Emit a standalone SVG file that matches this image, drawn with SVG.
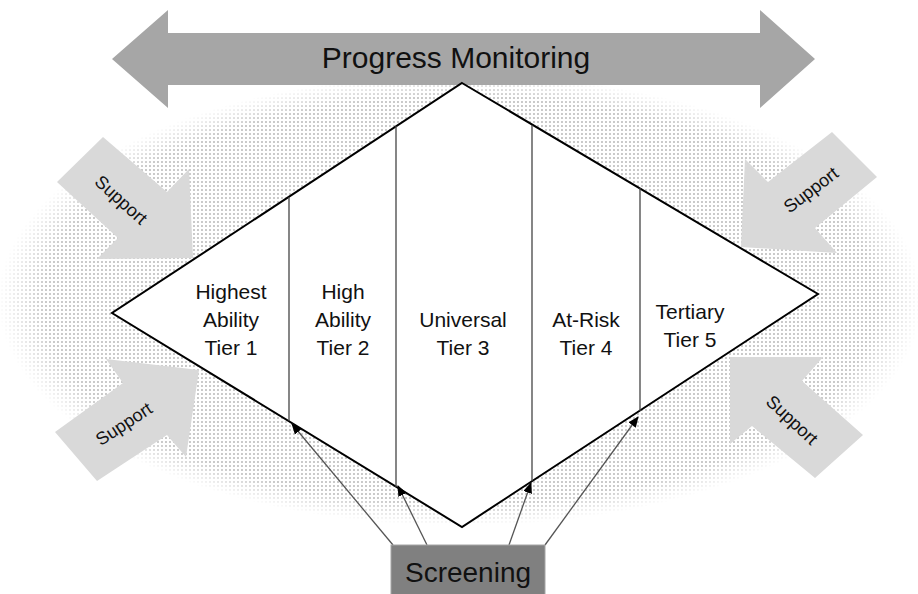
<svg xmlns="http://www.w3.org/2000/svg" width="918" height="594" viewBox="0 0 918 594">
<style>
.t{font-family:"Liberation Sans",Arial,sans-serif;fill:#111;text-anchor:middle}
.tier{font-size:21px}
.sup{font-size:18px}
.sarrow{fill:#d9d9d9}
.div{stroke:#444;stroke-width:1.3;fill:none}
.conn{stroke:#555;stroke-width:1.3;fill:none;marker-end:url(#ah)}
</style>
<defs>
<pattern id="dots" width="4" height="4" patternUnits="userSpaceOnUse">
<rect width="4" height="4" fill="#fff"/>
<circle cx="2" cy="2" r="0.95" fill="#b4b4b4"/>
</pattern>
<radialGradient id="fade" cx="0.5" cy="0.5" r="0.5">
<stop offset="0" stop-color="#fff"/>
<stop offset="0.9" stop-color="#fff"/>
<stop offset="1" stop-color="#000"/>
</radialGradient>
<mask id="m" maskUnits="userSpaceOnUse" x="0" y="0" width="918" height="594">
<ellipse cx="460" cy="300" rx="462" ry="226" fill="url(#fade)"/>
</mask>
<marker id="ah" markerWidth="11" markerHeight="9" refX="10" refY="4.5" orient="auto" markerUnits="userSpaceOnUse">
<path d="M0,0 L11,4.5 L0,9 z" fill="#000"/>
</marker>
</defs>
<rect width="918" height="594" fill="#fff"/>
<g id="background">
<ellipse cx="460" cy="300" rx="462" ry="226" fill="url(#dots)" mask="url(#m)"/>
</g>
<g id="progress-monitoring">
<polygon points="112,59 168,10 168,33 760,33 760,10 815,59 760,108 760,85 168,85 168,108" fill="#a6a6a6"/>
<text class="t" x="456" y="68" font-size="30">Progress Monitoring</text>
</g>
<g id="support-top-left">
<polygon class="sarrow" points="103,137 167,192 189,169 193,258 97,259 118,238 57,182"/>
<text class="t sup" transform="translate(121,200) rotate(42)" y="6">Support</text>
</g>
<g id="support-bottom-left">
<polygon class="sarrow" points="55,432 123,383 106,359 199,370 186,457 167,435 97,481"/>
<text class="t sup" transform="translate(124,424) rotate(-33)" y="6">Support</text>
</g>
<g id="support-top-right">
<polygon class="sarrow" points="832,132 768,182 745,159 741,247 837,253 815,228 877,177"/>
<text class="t sup" transform="translate(811,190) rotate(-37)" y="6">Support</text>
</g>
<g id="support-bottom-right">
<polygon class="sarrow" points="730,357 823,357 802,381 863,435 815,478 752,426 730,444"/>
<text class="t sup" transform="translate(792,420) rotate(43)" y="6">Support</text>
</g>
<g id="tiers">
<polygon points="462,83 818,294 462,527 112,313" fill="#fff" stroke="#000" stroke-width="2" stroke-linejoin="miter"/>
<line class="div" x1="289" y1="197" x2="289" y2="421"/>
<line class="div" x1="396" y1="126" x2="396" y2="487"/>
<line class="div" x1="532" y1="125" x2="532" y2="481"/>
<line class="div" x1="640" y1="188" x2="640" y2="411"/>
</g>
<g id="tier1">
<text class="t tier" x="231" y="299">Highest</text>
<text class="t tier" x="231" y="327">Ability</text>
<text class="t tier" x="231" y="355">Tier 1</text>
</g>
<g id="tier2">
<text class="t tier" x="343" y="299">High</text>
<text class="t tier" x="343" y="327">Ability</text>
<text class="t tier" x="343" y="355">Tier 2</text>
</g>
<g id="tier3">
<text class="t tier" x="463" y="327">Universal</text>
<text class="t tier" x="463" y="355">Tier 3</text>
</g>
<g id="tier4">
<text class="t tier" x="586" y="327">At-Risk</text>
<text class="t tier" x="586" y="355">Tier 4</text>
</g>
<g id="tier5">
<text class="t tier" x="690" y="319">Tertiary</text>
<text class="t tier" x="690" y="347">Tier 5</text>
</g>
<g id="connectors">
<line class="conn" x1="393" y1="545" x2="292" y2="424"/>
<line class="conn" x1="427" y1="545" x2="398" y2="486"/>
<line class="conn" x1="509" y1="545" x2="531" y2="483"/>
<line class="conn" x1="545" y1="545" x2="638" y2="417"/>
</g>
<g id="screening">
<rect x="391" y="545" width="154" height="55" fill="#808080" stroke="#a6a6a6" stroke-width="1"/>
<text class="t" x="468" y="582" font-size="28">Screening</text>
</g>
</svg>
